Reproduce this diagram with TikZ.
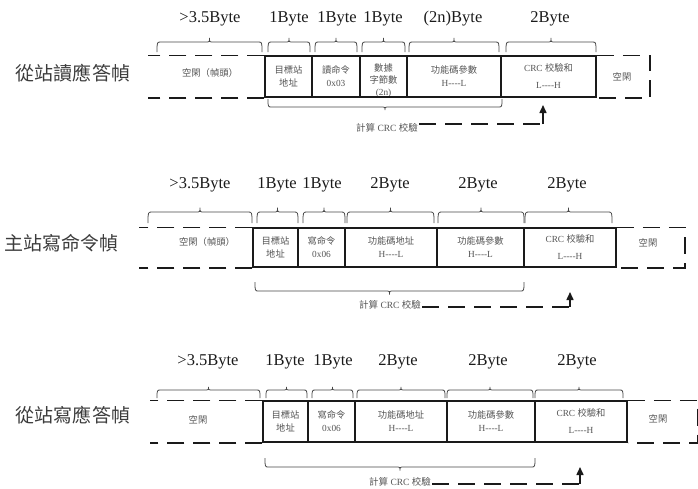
\documentclass[tikz,border=0pt]{standalone}
\usepackage{fontspec}
\setmainfont{Liberation Serif}[Ligatures=TeXOff]
\newfontfamily\cjkf{Noto Sans CJK TC}
\newcommand\cj[1]{{\cjkf #1}}
\usetikzlibrary{arrows.meta}
\definecolor{txtgray}{HTML}{555555}
\definecolor{ink}{HTML}{1A1A1A}
\tikzset{
 cell/.style={draw=ink, line width=1.5pt, inner sep=0pt, align=center, font=\fontsize{9.3}{13}\selectfont, text=txtgray},
 idletxt/.style={inner sep=0pt, align=center, font=\fontsize{9.3}{12}\selectfont, text=txtgray},
 bytelbl/.style={inner sep=0pt, font=\fontsize{16.5}{18}\selectfont, text=ink},
 framelbl/.style={inner sep=0pt, font=\cjkf\fontsize{19}{22}\selectfont, text=ink!85},
 dashln/.style={draw=ink, line width=1.5pt, dash pattern=on 17pt off 9pt},
 brc/.style={draw=ink!80, line width=0.8pt},
 crctxt/.style={inner sep=1pt, font=\fontsize{9.5}{11}\selectfont, text=txtgray},
 arr/.style={draw=ink, line width=1.5pt, -{Triangle[length=8pt,width=7pt]}},
}
\newcommand\frbrc[4]{%
 \pgfmathsetmacro\frbm{(#1+#2)/2}%
 \pgfmathsetmacro\frbf{#3-(#4)}%
 \pgfmathsetmacro\frbt{#3-1.4*(#4)}%
 \draw[brc] (#1,#3) .. controls (#1,\frbf) .. ({#1+4},\frbf) -- ({\frbm-4},\frbf) .. controls (\frbm,\frbf) .. (\frbm,\frbt) .. controls (\frbm,\frbf) .. ({\frbm+4},\frbf) -- ({#2-4},\frbf) .. controls (#2,\frbf) .. (#2,#3);}
\begin{document}
\begin{tikzpicture}[x=1pt,y=-1pt]
\useasboundingbox (0,0) rectangle (698,488);

% ================= Frame 1 =================
\node[framelbl] (f1) at (73,73) {從站讀應答幀};
\node[bytelbl] (y1a) at (210,19) {>3.5Byte};
\node[bytelbl] (y1b) at (289,19) {1Byte};
\node[bytelbl] (y1c) at (337,19) {1Byte};
\node[bytelbl] (y1d) at (383,19) {1Byte};
\node[bytelbl] (y1e) at (453,19) {(2n)Byte};
\node[bytelbl] (y1f) at (550,19) {2Byte};
\frbrc{157}{262}{52}{10}
\frbrc{268}{310}{52}{10}
\frbrc{315}{357}{52}{10}
\frbrc{362}{405}{52}{10}
\frbrc{409}{499}{52}{10}
\frbrc{506}{596}{52}{10}

\node[idletxt] (i1) at (210,73) {\cj{空閑（幀頭）}};
\node[idletxt] (c1t) at (383.5,81) {\cj{數據}\\\cj{字節數}\\(2n)};
\node[cell, minimum width=47pt, minimum height=41pt] (a1) at (288.5,76.5) {\cj{目標站}\\\cj{地址}};
\node[cell, minimum width=48pt, minimum height=41pt] (b1) at (336,76.5) {\cj{讀命令}\\0x03};
\node[cell, minimum width=47pt, minimum height=41pt] (c1) at (383.5,76.5) {};
\node[cell, minimum width=94pt, minimum height=41pt] (d1) at (454,76.5) {\cj{功能碼參數}\\H----L};
\node[cell, minimum width=95pt, minimum height=41pt] (e1) at (548.5,76.5) {CRC \cj{校驗和}\\[4pt]L----H};
\node[idletxt] (j1) at (622,77) {\cj{空閑}};
\coordinate (l1) at (148,76.5);
\coordinate (r1) at (650,76.5);
\draw[dashln] (a1.north west) -- (a1.north west -| l1);
\draw[dashln] (a1.south west) -- (a1.south west -| l1);
\draw[dashln] (e1.north east) -- (e1.north east -| r1) -- (e1.south east -| r1) -- (e1.south east);
\frbrc{268}{502}{99}{-8}
\node[crctxt] (k1) at (387,128) {\cj{計算} CRC \cj{校驗}};
\coordinate (t1) at (543,124);
\coordinate (p1) at (543,105);
\draw[dashln] (k1.east |- t1) -- (t1);
\draw[arr] (t1) -- (p1);

% ================= Frame 2 =================
\node[framelbl] (f2) at (62,243) {主站寫命令幀};
\node[bytelbl] (y2a) at (200,185) {>3.5Byte};
\node[bytelbl] (y2b) at (277,185) {1Byte};
\node[bytelbl] (y2c) at (322,185) {1Byte};
\node[bytelbl] (y2d) at (390,185) {2Byte};
\node[bytelbl] (y2e) at (478,185) {2Byte};
\node[bytelbl] (y2f) at (567,185) {2Byte};
\frbrc{148}{252}{223}{11}
\frbrc{257}{298}{223}{11}
\frbrc{303}{345}{223}{11}
\frbrc{347}{434}{223}{11}
\frbrc{438}{524}{223}{11}
\frbrc{525}{612}{223}{11}

\node[idletxt] (i2) at (207,242) {\cj{空閑（幀頭）}};
\node[cell, minimum width=45pt, minimum height=39pt] (a2) at (275.5,247.5) {\cj{目標站}\\\cj{地址}};
\node[cell, minimum width=47pt, minimum height=39pt] (b2) at (321.5,247.5) {\cj{寫命令}\\0x06};
\node[cell, minimum width=92pt, minimum height=39pt] (c2) at (391,247.5) {\cj{功能碼地址}\\H----L};
\node[cell, minimum width=87pt, minimum height=39pt] (d2) at (480.5,247.5) {\cj{功能碼參數}\\H----L};
\node[cell, minimum width=92pt, minimum height=39pt] (e2) at (570,247.5) {CRC \cj{校驗和}\\[4pt]L----H};
\node[idletxt] (j2) at (648,243) {\cj{空閑}};
\coordinate (l2) at (139,247.5);
\coordinate (r2) at (685,247.5);
\draw[dashln] (a2.north west) -- (a2.north west -| l2);
\draw[dashln] (a2.south west) -- (a2.south west -| l2);
\draw[dashln] (e2.north east) -- (e2.north east -| r2) -- (e2.south east -| r2) -- (e2.south east);
\frbrc{255}{524}{282}{-9}
\node[crctxt] (k2) at (390,305) {\cj{計算} CRC \cj{校驗}};
\coordinate (t2) at (570,307);
\coordinate (p2) at (570,292);
\draw[dashln] (k2.east |- t2) -- (t2);
\draw[arr] (t2) -- (p2);

% ================= Frame 3 =================
\node[framelbl] (f3) at (73,415) {從站寫應答幀};
\node[bytelbl] (y3a) at (208,362) {>3.5Byte};
\node[bytelbl] (y3b) at (285,362) {1Byte};
\node[bytelbl] (y3c) at (333,362) {1Byte};
\node[bytelbl] (y3d) at (398,362) {2Byte};
\node[bytelbl] (y3e) at (488,362) {2Byte};
\node[bytelbl] (y3f) at (577,362) {2Byte};
\frbrc{157}{260}{398}{8}
\frbrc{266}{307}{398}{8}
\frbrc{312}{353}{398}{8}
\frbrc{357}{445}{398}{8}
\frbrc{447}{533}{398}{8}
\frbrc{535}{623}{398}{8}

\node[idletxt] (i3) at (198,420) {\cj{空閑}};
\node[cell, minimum width=45pt, minimum height=41pt] (a3) at (285.5,421.5) {\cj{目標站}\\\cj{地址}};
\node[cell, minimum width=47pt, minimum height=41pt] (b3) at (331.5,421.5) {\cj{寫命令}\\0x06};
\node[cell, minimum width=92pt, minimum height=41pt] (c3) at (401,421.5) {\cj{功能碼地址}\\H----L};
\node[cell, minimum width=88pt, minimum height=41pt] (d3) at (491,421.5) {\cj{功能碼參數}\\H----L};
\node[cell, minimum width=92pt, minimum height=41pt] (e3) at (581,421.5) {CRC \cj{校驗和}\\[4pt]L----H};
\node[idletxt] (j3) at (658,419) {\cj{空閑}};
\coordinate (l3) at (150,421.5);
\coordinate (r3) at (697.5,421.5);
\draw[dashln] (a3.north west) -- (a3.north west -| l3);
\draw[dashln] (a3.south west) -- (a3.south west -| l3);
\draw[dashln] (e3.north east) -- (e3.north east -| r3) -- (e3.south east -| r3) -- (e3.south east);
\frbrc{265}{535}{458}{-9}
\node[crctxt] (k3) at (400,482) {\cj{計算} CRC \cj{校驗}};
\coordinate (t3) at (580,484);
\coordinate (p3) at (580,467);
\draw[dashln] (k3.east |- t3) -- (t3);
\draw[arr] (t3) -- (p3);
\end{tikzpicture}
\end{document}
